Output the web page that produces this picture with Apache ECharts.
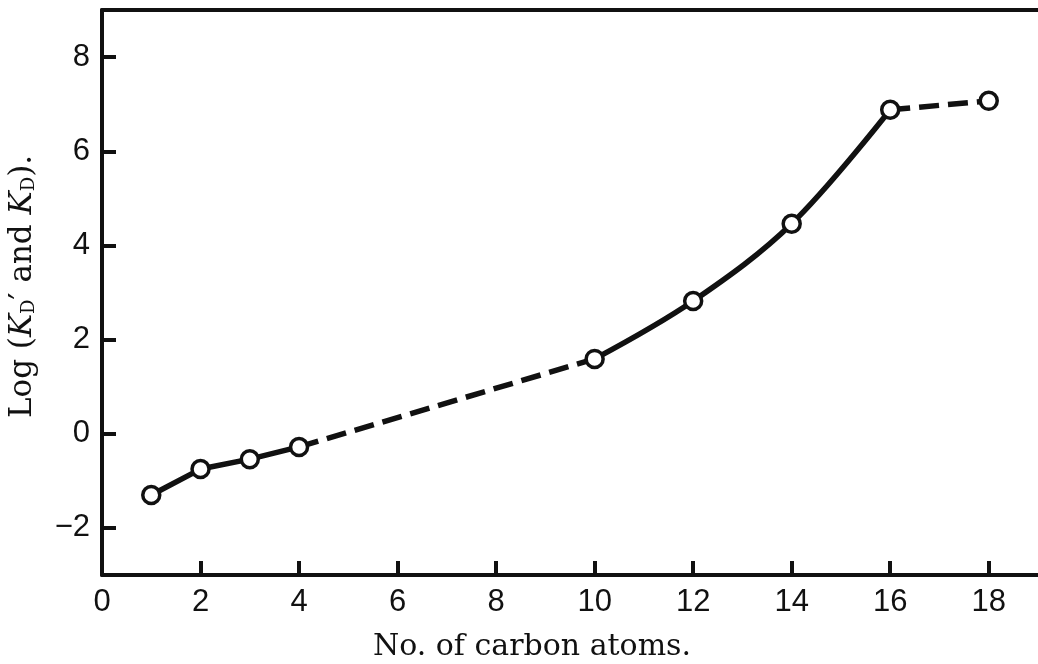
<!DOCTYPE html>
<html>
<head>
<meta charset="utf-8">
<script src="https://cdn.jsdelivr.net/npm/echarts@6/dist/echarts.min.js"></script>
<style>
html,body{margin:0;padding:0;background:#fff;}
#c{width:1038px;height:664px;}
</style>
</head>
<body>
<div id="c"></div>
<script>
// Data
var carbonAtoms = [1, 2, 3, 4, 10, 12, 14, 16, 18];
var logKD = [-1.30, -0.75, -0.54, -0.28, 1.59, 2.82, 4.46, 6.88, 7.07];
// segments: solid 1-4, dashed 4-10, solid (curved) 10-16, dashed 16-18
var solidLow = [[1, -1.30], [2, -0.75], [3, -0.54], [4, -0.28]];
var dashedMid = [[4, -0.28], [10, 1.59]];
var solidHigh = [[10, 1.59], [12, 2.82], [14, 4.46], [16, 6.88]];
var dashedTop = [[16, 6.88], [18, 7.07]];
var xTicks = [0, 2, 4, 6, 8, 10, 12, 14, 16, 18];
var yTicks = [-2, 0, 2, 4, 6, 8];

var ink = '#111';
var chart = echarts.init(document.getElementById('c'), null, {renderer: 'canvas'});
var points = carbonAtoms.map(function (x, i) { return [x, logKD[i]]; });

var lineBase = function (data, dashed, smooth) {
  return {
    type: 'line', data: data, smooth: smooth ? 0.35 : false,
    symbol: 'none', silent: true, z: 3,
    lineStyle: {color: ink, width: 5.5, type: dashed ? [20, 9] : 'solid', cap: 'butt'}
  };
};

chart.setOption({
  backgroundColor: '#fff',
  animation: false,
  grid: {left: 102, right: 0, top: 10, bottom: 89, containLabel: false, outerBoundsMode: 'none'},
  xAxis: [{
    type: 'value', min: 0, max: 19, interval: 2,
    name: 'No. of carbon atoms.', nameLocation: 'middle', nameGap: 57,
    nameTextStyle: {fontFamily: 'DejaVu Serif', fontSize: 30, color: ink, padding: [0, 76, 0, 0]},
    axisLine: {show: true, onZero: false, lineStyle: {color: ink, width: 4}},
    axisTick: {show: true, inside: true, length: 14, lineStyle: {color: ink, width: 4}},
    axisLabel: {
      fontFamily: 'Liberation Sans', fontSize: 31, color: ink, margin: 12,
      showMaxLabel: false,
      formatter: function (v) { return xTicks.indexOf(v) >= 0 ? String(v) : ''; }
    },
    splitLine: {show: false}
  }, {
    type: 'value', min: 0, max: 19, position: 'top',
    axisLine: {show: true, onZero: false, lineStyle: {color: ink, width: 4}},
    axisTick: {show: false}, axisLabel: {show: false}, splitLine: {show: false}
  }],
  yAxis: {
    type: 'value', min: -3, max: 9, interval: 1,
    name: 'Log ({k|K}{s|D}′ and {k|K}{s|D}).', nameLocation: 'middle', nameRotate: 90, nameGap: 64,
    nameTextStyle: {
      fontFamily: 'DejaVu Serif', fontSize: 31, color: ink, padding: [0, 0, 0, 12],
      rich: {
        k: {fontFamily: 'DejaVu Serif', fontStyle: 'italic', fontSize: 31, color: ink},
        s: {fontFamily: 'DejaVu Serif', fontSize: 18, color: ink, verticalAlign: 'bottom', padding: [13, 0, 0, 0]}
      }
    },
    axisLine: {show: true, onZero: false, lineStyle: {color: ink, width: 4}},
    axisTick: {
      show: true, inside: true, length: 14, lineStyle: {color: ink, width: 4},
      customValues: yTicks
    },
    axisLabel: {
      fontFamily: 'Liberation Sans', fontSize: 31, color: ink, margin: 12,
      customValues: yTicks,
      formatter: function (v) { return v < 0 ? '\u2212' + Math.abs(v) : String(v); }
    },
    splitLine: {show: false}
  },
  series: [
    lineBase(solidLow, false, false),
    lineBase(dashedMid, true, false),
    lineBase(solidHigh, false, true),
    lineBase(dashedTop, true, false),
    {
      type: 'scatter', data: points, symbol: 'circle', symbolSize: 17, z: 5, silent: true,
      itemStyle: {color: '#fff', borderColor: ink, borderWidth: 3.5, opacity: 1}
    }
  ]
});
</script>
</body>
</html>
